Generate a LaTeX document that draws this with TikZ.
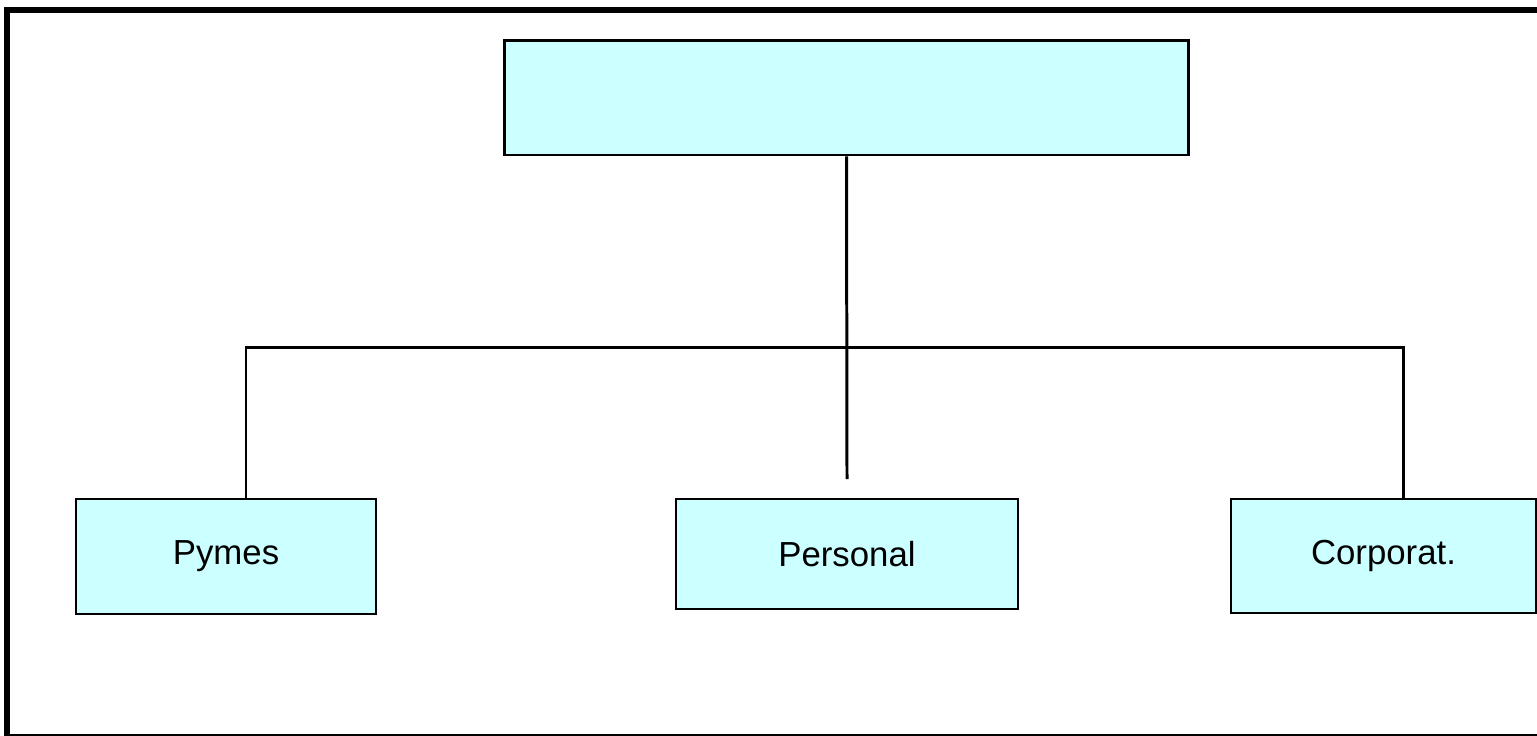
\documentclass[tikz,border=0pt]{standalone}
\usepackage{fontspec}
\setmainfont{Liberation Sans}
\usepackage{tikz}
\definecolor{boxfill}{HTML}{CCFFFF}

\begin{document}
\begin{tikzpicture}
[
x=0.02cm,y=-0.02cm,
unit/.style 2 args={draw,fill=boxfill,line width=1.4pt,inner sep=0pt,
            minimum width=#1,minimum height=#2,
            font=\fontsize{19.8pt}{24pt}\selectfont},
link/.style={line width=1.7pt},
]
\useasboundingbox (0,0) rectangle (1537,735);
\draw[line width=3.4pt] (7,10) rectangle (1545,737);

%Place the nodes
\node[unit={13.7cm}{2.3cm},line width=1.7pt] (head) at (846.5,97.5) {};
\node[unit={6cm}{2.3cm}] (pymes) at (226,556.5) {Pymes};
\node[unit={6.84cm}{2.2cm}] (personal) at (847,554) {Personal};
\node[unit={6.1cm}{2.28cm}] (corp) at (1383.5,556) {Corporat.};
\coordinate (barl) at (246,347);
\coordinate (barr) at (1403,347);
\coordinate (midend) at (847,479);
%Draw the connections
\draw[link] (head.south) -- (midend);
\draw[link,line cap=rect] (barl) -- (barr);
\draw[link] (barl) -- (barl |- pymes.north);
\draw[link] (barr) -- (barr |- corp.north);
\end{tikzpicture}
\end{document}
